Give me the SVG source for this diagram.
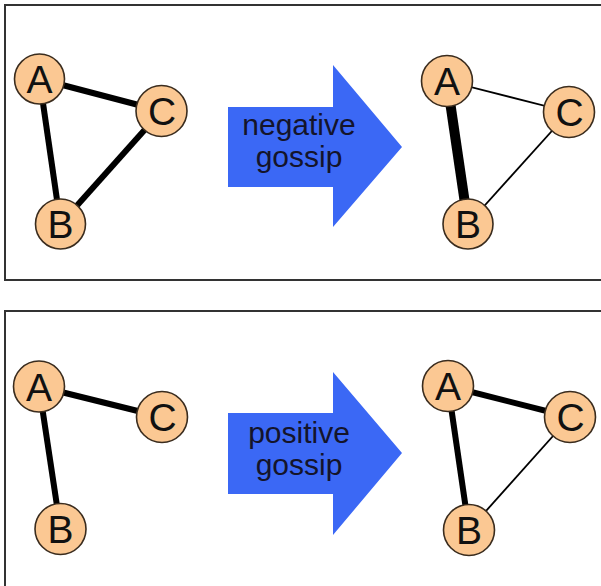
<svg xmlns="http://www.w3.org/2000/svg" width="601" height="586" viewBox="0 0 601 586">
<style>
.panel{fill:#fff;stroke:#333;stroke-width:2}
.node circle{fill:#fbc893;stroke:#3a2c1e;stroke-width:1.6}
.node text{font-family:"Liberation Sans",Arial,sans-serif;font-size:39px;fill:#111;text-anchor:middle}
.e{stroke:#000;stroke-linecap:butt}
.w6{stroke-width:6}
.w2{stroke-width:1.8}
.w10{stroke-width:10}
.arrow{fill:#3b68f5}
.lbl{font-family:"Liberation Sans",Arial,sans-serif;font-size:30px;fill:#14142a;text-anchor:middle}
</style>
<rect width="601" height="586" fill="#fff"/>
<rect class="panel" x="5" y="5" width="600" height="275"/>
<rect class="panel" x="5" y="311" width="600" height="290"/>
<g id="connectors">
<line class="e w6" x1="39.5" y1="79" x2="161.5" y2="111"/>
<line class="e w6" x1="39.5" y1="79" x2="60.5" y2="224"/>
<line class="e w6" x1="60.5" y1="224" x2="161.5" y2="111"/>
<line class="e w2" x1="447" y1="81" x2="569" y2="112"/>
<line class="e w10" x1="447" y1="81" x2="468" y2="224"/>
<line class="e w2" x1="468" y1="224" x2="569" y2="112"/>
<line class="e w6" x1="39" y1="386.5" x2="162" y2="417"/>
<line class="e w6" x1="39" y1="386.5" x2="60.5" y2="529"/>
<line class="e w6" x1="448" y1="386" x2="570" y2="417"/>
<line class="e w6" x1="448" y1="386" x2="469" y2="530"/>
<line class="e w2" x1="469" y1="530" x2="570" y2="417"/>
</g>
<g id="arrow1">
<polygon class="arrow" points="228,107 333,107 333,65 402,147 333,227 333,187 228,187"/>
<text class="lbl" x="299" y="135">negative</text>
<text class="lbl" x="299" y="167">gossip</text>
</g>
<g id="arrow2">
<polygon class="arrow" points="228,413 333,413 333,372 402,453 333,535 333,494 228,494"/>
<text class="lbl" x="299" y="443">positive</text>
<text class="lbl" x="299" y="475">gossip</text>
</g>
<g id="p1A" class="node"><circle cx="39.5" cy="79" r="25"/><text x="39.5" y="93">A</text></g>
<g id="p1C" class="node"><circle cx="161.5" cy="111" r="25.5"/><text x="162" y="125">C</text></g>
<g id="p1B" class="node"><circle cx="60.5" cy="224" r="25"/><text x="60.5" y="238">B</text></g>
<g id="p2A" class="node"><circle cx="447" cy="81" r="25.5"/><text x="447" y="95">A</text></g>
<g id="p2C" class="node"><circle cx="569" cy="112" r="25.5"/><text x="569.5" y="126">C</text></g>
<g id="p2B" class="node"><circle cx="468" cy="224" r="25"/><text x="468" y="238">B</text></g>
<g id="p3A" class="node"><circle cx="39" cy="386.5" r="25.5"/><text x="39" y="400.5">A</text></g>
<g id="p3C" class="node"><circle cx="162" cy="417" r="25.5"/><text x="162.5" y="431">C</text></g>
<g id="p3B" class="node"><circle cx="60.5" cy="529" r="25.5"/><text x="60.5" y="543">B</text></g>
<g id="p4A" class="node"><circle cx="448" cy="386" r="25.5"/><text x="448" y="400">A</text></g>
<g id="p4C" class="node"><circle cx="570" cy="417" r="25.5"/><text x="570.5" y="431">C</text></g>
<g id="p4B" class="node"><circle cx="469" cy="530" r="25.5"/><text x="469" y="544">B</text></g>
</svg>
